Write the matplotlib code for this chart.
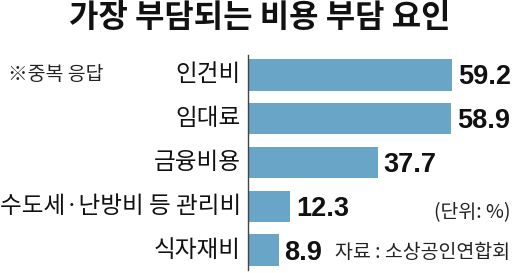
import matplotlib
matplotlib.use("Agg")
import matplotlib.pyplot as plt

plt.rcParams['font.family'] = ['Noto Sans CJK KR', 'DejaVu Sans']

categories = ['인건비', '임대료', '금융비용', '수도세·난방비 등 관리비', '식자재비']
values = [59.2, 58.9, 37.7, 12.3, 8.9]
value_labels = ['59.2', '58.9', '37.7', '12.3', '8.9']

BAR = '#68a5c6'

fig = plt.figure(figsize=(5.12, 2.73), dpi=100)
ax = fig.add_axes([248 / 512, 3 / 273, 264 / 512, 215 / 273])

ys = list(range(len(categories)))
ax.barh(ys, values, height=0.72, color=BAR, left=0)
ax.set_xlim(0, 76.5)
ax.set_ylim(4.45, -0.45)

for s in ('top', 'right', 'bottom'):
    ax.spines[s].set_visible(False)
ax.spines['left'].set_color('#444444')
ax.spines['left'].set_linewidth(1.0)
ax.set_xticks([])
ax.set_yticks([])

for y, v, lab in zip(ys, values, value_labels):
    ax.text(v + 1.6, y + 0.06, lab, ha='left', va='center', fontsize=19.5,
            fontweight='bold', family=['Liberation Sans', 'DejaVu Sans'],
            color='#111111')

for y, c in zip(ys, categories):
    ax.text(-2.0, y, c, ha='right', va='center', fontsize=17, color='#111111')

fig.text(260 / 512, 1 - 18 / 273, '가장 부담되는 비용 부담 요인', ha='center', va='center',
         fontsize=23, fontweight='bold', color='#111111')
fig.text(8 / 512, 1 - 75 / 273, '※중복 응답', ha='left', va='center',
         fontsize=14, color='#222222')
fig.text(510 / 512, 1 - 213 / 273, '(단위: %)', ha='right', va='center',
         fontsize=14, color='#222222')
fig.text(510 / 512, 1 - 253 / 273, '자료 : 소상공인연합회', ha='right', va='center',
         fontsize=14, color='#222222')

fig.savefig('out.png', dpi=100)
